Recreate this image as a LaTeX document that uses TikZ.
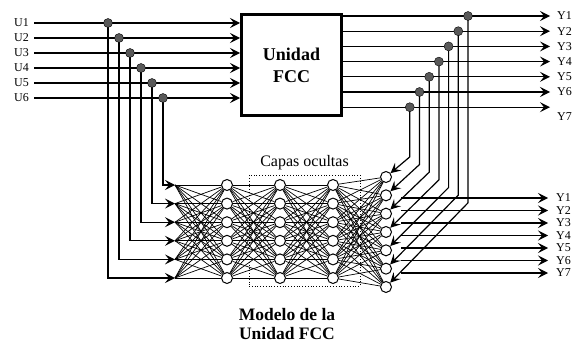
\documentclass[tikz,border=0pt]{standalone}
\usepackage{fontspec}
\setmainfont{Liberation Serif}
\usetikzlibrary{arrows.meta,positioning,calc}

\begin{document}
\begin{tikzpicture}[
            x=1pt, y=-1pt,
            unit/.style={rectangle, draw, line width=3pt, minimum width=100pt,
                         minimum height=101pt, align=center,
                         font=\fontsize{18}{22}\selectfont\bfseries},
            neuron/.style={circle, draw, line width=1pt, fill=white,
                           minimum size=11pt, inner sep=0pt},
            tap/.style={circle, draw, fill=black!65, minimum size=9pt, inner sep=0pt},
            lbl/.style={font=\fontsize{12}{12}\selectfont, inner sep=1pt},
            arrow/.style={-{Stealth[length=10pt,width=10pt,inset=4pt]}, line width=1.2pt},
            mesh/.style={line width=0.7pt}
        ]
            \useasboundingbox (0,0) rectangle (578,345);

            % Unidad FCC
            \node[unit] (fcc) at (291.5,65) {Unidad\\FCC};

            % Entradas U1..U6
            \foreach \i in {1,...,6} {
                \pgfmathsetmacro{\yy}{23+15*(\i-1)}
                \pgfmathsetmacro{\xx}{108+11*(\i-1)}
                \node[lbl, anchor=east] (u\i) at (30,\yy) {U\i};
                \coordinate (tu\i) at (\xx,\yy);
                \draw[arrow, shorten <=4pt] (u\i.east) -- (fcc.west |- u\i.east);
            }

            % Red neuronal
            \foreach \k in {1,...,6} {
                \pgfmathsetmacro{\yy}{185+18.6*(\k-1)}
                \coordinate (in\k) at (175,\yy);
                \node[neuron] (a\k) at (227,\yy) {};
                \node[neuron] (b\k) at (280,\yy) {};
                \node[neuron] (c\k) at (333,\yy) {};
            }
            \foreach \j in {1,...,7}
                \node[neuron] (o\j) at (386,{177+18.33*(\j-1)}) {};

            \foreach \p in {1,...,6} {
                \foreach \q in {1,...,6} {
                    \draw[mesh] (in\p) -- (a\q);
                    \draw[mesh] (a\p) -- (b\q);
                    \draw[mesh] (b\p) -- (c\q);
                }
                \foreach \q in {1,...,7}
                    \draw[mesh] (c\p) -- (o\q);
            }

            % Capas ocultas
            \node[draw, dotted, line width=0.8pt, minimum width=111pt,
                  minimum height=111pt] (hid) at (304.5,230.5) {};
            \node[above=1pt of hid, font=\fontsize{16}{16}\selectfont] (hidlbl) {Capas ocultas};

            % Entradas hacia la red
            \foreach \i in {1,...,6} {
                \pgfmathtruncatemacro{\k}{7-\i}
                \draw[arrow] (tu\i) |- (in\k);
            }
            \foreach \i in {1,...,6}
                \node[tap] (t\i) at (tu\i) {};

            % Salidas Y1..Y7 de la unidad
            \foreach \j in {1,...,7} {
                \pgfmathsetmacro{\yy}{16+15.2*(\j-1)}
                \pgfmathsetmacro{\xx}{468-9.7*(\j-1)}
                \coordinate (yt\j) at (550,\yy);
                \coordinate (ty\j) at (\xx,\yy);
                \draw[arrow] (fcc.east |- yt\j) -- (yt\j);
            }
            \foreach \j/\yy in {1/16,2/31.2,3/46.4,4/61.6,5/76.8,6/92,7/117}
                \node[lbl, anchor=west] (yl\j) at (556,\yy) {Y\j};

            % Realimentacion hacia la capa de salida
            \foreach \j in {1,...,7} {
                \pgfmathtruncatemacro{\q}{8-\j}
                \pgfmathsetmacro{\xx}{468-9.7*(\j-1)}
                \pgfmathsetmacro{\by}{177+18.33*(\q-1)-1.1*(\xx-391.5)}
                \draw[arrow] (ty\j) -- (\xx,\by) -- (o\q);
            }
            \foreach \j in {1,...,7}
                \node[tap] (s\j) at (ty\j) {};

            % Salidas Y1..Y7 del modelo
            \foreach \j in {1,...,7} {
                \pgfmathsetmacro{\yy}{198+12.5*(\j-1)}
                \coordinate (ys\j) at (401,\yy);
                \coordinate (ye\j) at (548,\yy);
                \draw[arrow] (ys\j) -- (ye\j);
                \node[lbl, anchor=west] (yb\j) at (555,\yy) {Y\j};
            }

            % Titulo
            \node[font=\fontsize{17.5}{19}\selectfont\bfseries, align=center] (title)
                at (287,324) {Modelo de la\\Unidad FCC};
        \end{tikzpicture}
\end{document}
